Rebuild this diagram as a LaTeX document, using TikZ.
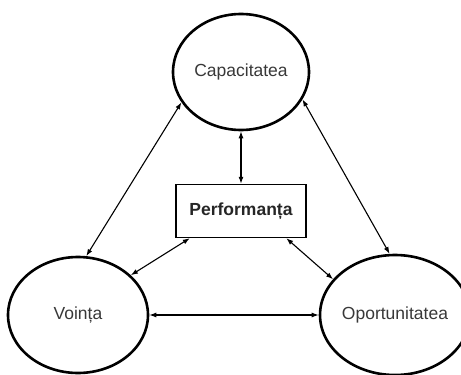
\documentclass[tikz,border=0pt]{standalone}
\usepackage{fontspec}
\setmainfont{Liberation Sans}
\usetikzlibrary{shapes.geometric,arrows.meta}
\begin{document}
\begin{tikzpicture}[x=1pt,y=-1pt,
  factor/.style={ellipse,draw=black,line width=2.6pt,inner sep=0pt,
    text=black!78,font=\fontsize{17.5}{20}\selectfont},
  centerbox/.style={rectangle,draw=black,line width=1.4pt,inner sep=0pt,
    minimum width=130,minimum height=53,font=\fontsize{17.5}{20}\selectfont\bfseries,text=black!85},
  link/.style={line width=1.1pt,{Latex[length=7pt,width=5pt]}-{Latex[length=7pt,width=5pt]}}]
  \useasboundingbox (0,0) rectangle (461,375);
  % the three factors
  \node[factor,minimum width=136,minimum height=116] (cap) at (241,72) {Capacitatea};
  \node[factor,minimum width=140,minimum height=116] (voi) at (78,315) {Voința};
  \node[factor,minimum width=126,minimum height=120] (opo) at (395,315) {Oportunitatea};
  % performance in the middle
  \node[centerbox] (perf) at (241,211) {Performanța};
  % mutual influences
  \draw[link] (cap.207) -- (voi.82);
  \draw[link] (cap.336) -- (opo.95);
  \draw[link] (cap.south) -- (perf.north);
  \draw[link] (perf.208) -- (voi.37);
  \draw[link] (perf.329) -- (opo.150);
  \draw[link] (voi.east) -- (opo.west);
\end{tikzpicture}
\end{document}
